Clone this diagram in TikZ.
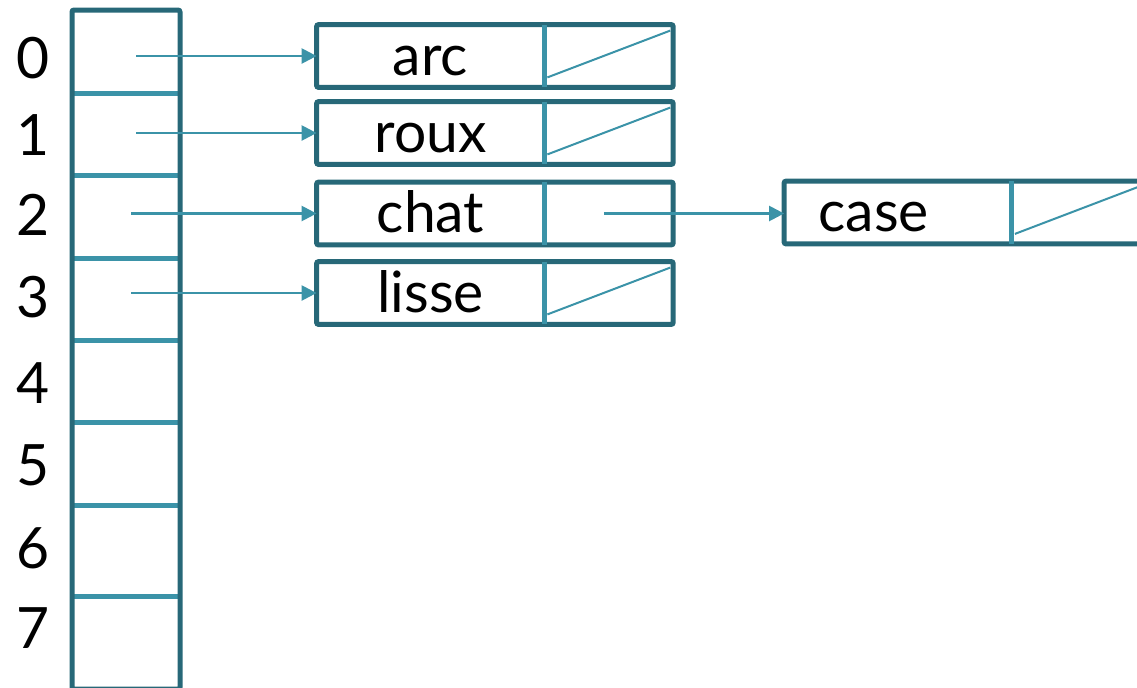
\documentclass[tikz,border=0pt]{standalone}
\usepackage{fontspec}
\setmainfont{Lato}
\usetikzlibrary{arrows.meta, positioning, calc}
\definecolor{cFrame}{HTML}{276878}
\definecolor{cLink}{HTML}{3B93A8}

\begin{document}
\begin{tikzpicture}[
  x=0.5pt, y=-0.5pt,
  cell/.style={minimum width=113.5pt, minimum height=31pt, inner sep=0pt, text height=25pt, text depth=6pt, font=\fontsize{28.5}{34}\selectfont},
  nxt/.style={minimum width=64pt, minimum height=31pt, inner sep=0pt},
  frame/.style={draw=cFrame, line width=2.5pt, rounded corners=1pt},
  sep/.style={draw=cLink, line width=2.5pt},
  nil/.style={draw=cLink, line width=1pt},
  link/.style={draw=cLink, line width=1.2pt, -{Triangle[length=7.5pt, width=7.5pt]}},
  idx/.style={font=\fontsize{28.5}{34}\selectfont, inner sep=0pt}
]
\useasboundingbox (0,0) rectangle (1137,687);

% the table
\foreach \i/\y/\ny in {0/51.5/58, 1/134/135, 2/216.5/215, 3/299/297, 4/381/383, 5/463.5/465, 6/550.5/548, 7/641.5/628}{
  \coordinate (s\i) at (126,\y);
  \node[idx] (n\i) at (33,\ny) {\i};
}
\foreach \y in {93,175,258,340,422,505,596}
  \draw[sep] (74,\y) -- (178,\y);
\draw[frame] (72,10) rectangle (180,689);

% the lists
\node[cell] (arc) at (430.5,56) {arc};
\node[nxt, right=0pt of arc] (arc-p) {};
\node[cell] (roux) at (430.5,133) {roux};
\node[nxt, right=0pt of roux] (roux-p) {};
\node[cell] (chat) at (430.5,213.5) {chat};
\node[nxt, right=0pt of chat] (chat-p) {};
\node[cell] (lisse) at (430.5,293) {lisse};
\node[nxt, right=0pt of lisse] (lisse-p) {};
\node[cell, text width=113.5pt, align=left] (case) at (898,212.5) {\hspace*{17pt}case};
\node[nxt, right=0pt of case] (case-p) {};

\foreach \w in {arc,roux,chat,lisse,case}{
  \draw[frame] (\w.north west) rectangle (\w-p.south east);
  \draw[sep] (\w.north east) -- (\w.south east);
}
\foreach \w in {arc,roux,lisse,case}
  \draw[nil] ($(\w-p.south west)+(3,-10)$) -- ($(\w-p.north east)+(-3,6)$);

% pointers
\foreach \i/\w/\d in {0/arc/5pt, 1/roux/5pt, 2/chat/2.5pt, 3/lisse/2.5pt}
  \draw[link, shorten <=\d] (s\i |- \w.west) -- (\w.west);
\draw[link, shorten <=-2.5pt] (chat-p.center) -- (chat-p.center -| case.west);
\end{tikzpicture}
\end{document}
